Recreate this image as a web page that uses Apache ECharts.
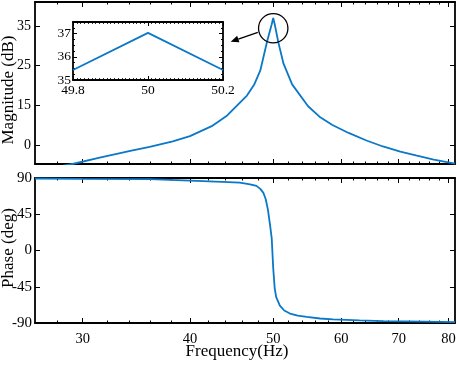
<!DOCTYPE html>
<html lang="en">
<head>
<meta charset="UTF-8">
<title>Bode</title>
<style>
    body { margin: 0; background: #fff; }
    .div { width: 457px; height: 365px; }
</style>
</head>
<body>
<div class="div"></div>
<script src="https://cdn.jsdelivr.net/npm/echarts@6/dist/echarts.min.js"></script>
<script>
    // magnitude
    var magFreq = [26.4, 29.2, 31.4, 34.3, 35.9, 38.2, 40, 42.4, 44.2, 46.6, 47.5, 48.3, 49.2, 49.8, 50, 50.2, 50.7, 51.4, 52.6, 54.9, 56.6, 58.6, 61.2, 64.2, 67.1, 70.3, 73.5, 76.9, 81.4]
    var magDb = [-1.4, 0.3, 1.9, 3.7, 4.6, 6.0, 7.3, 9.8, 12.5, 17.5, 20.2, 23.8, 31.2, 35.4, 37.0, 35.4, 30.8, 25.5, 20.3, 14.8, 12.2, 10.1, 8.1, 6.2, 4.7, 3.4, 2.4, 1.4, 0.4]
    // phase
    var phaseFreq = [26.4, 30, 35.9, 40, 43.6, 45.7, 47.0, 47.8, 48.3, 48.7, 49.0, 49.3, 49.6, 49.8, 50.0, 50.2, 50.4, 50.9, 51.5, 52.3, 53.4, 54.7, 56.7, 58.7, 63, 67.2, 75, 81.4]
    var phaseDeg = [89.4, 89.0, 88.5, 86.8, 85.2, 84.2, 82.2, 80.2, 76.5, 71.5, 64, 50.5, 30, 15, -22, -47, -58, -68.5, -74.5, -78.3, -80.8, -82.5, -84.4, -85.4, -86.8, -87.6, -88.3, -88.8]
    // zoomed inset
    var insetFreq = [49.8, 50, 50.2]
    var insetDb = [35.43, 37.03, 35.43]

    var freqTicks = [30, 40, 50, 60, 70, 80]
    var freqMinor = [28, 32, 34, 36, 38, 42, 44, 46, 48, 52, 54, 56, 58, 62, 64, 66, 68, 72, 74, 76, 78]
    var magTickValues = [5, 15, 25, 35]
    var magTickLabels = ['0', '15', '25', '35']   // as printed on the original
    var phaseTicks = [-90, -45, 0, 45, 90]
    var insetXTicks = [49.8, 50, 50.2]
    var insetYTicks = [35, 36, 37]
    var zoomCenter = [50, 34.4]

    var font = 'Liberation Serif'
    var blue = '#0a78c8'
    var lg = function (v) { return Math.log10(v) }
    var fMin = lg(26.4), fMax = lg(81.4)

    function range(a, b, step) {
        var out = []
        for (var v = a; v <= b + 1e-9; v += step) out.push(Math.round(v * 1000) / 1000)
        return out
    }

    function mkAxis(grid, pos, min, max, ticks, len, line, label) {
        var ax = {
            type: 'value', gridIndex: grid, position: pos, min: min, max: max,
            axisLine: { show: line, onZero: false, lineStyle: { color: '#000', width: 1.8 } },
            axisTick: { show: true, inside: true, length: len, customValues: ticks, lineStyle: { color: '#000', width: 1 } },
            splitLine: { show: false },
            axisLabel: { show: false }
        }
        if (label) {
            ax.axisLabel = {
                show: true, customValues: label.values, formatter: label.fmt,
                color: '#000', fontFamily: font, fontSize: label.size || 13, margin: label.margin
            }
        }
        return ax
    }
    var xAxes = [], yAxes = []
    function addX() { xAxes.push(mkAxis.apply(null, arguments)); return xAxes.length - 1 }
    function addY() { yAxes.push(mkAxis.apply(null, arguments)); return yAxes.length - 1 }

    var majLog = freqTicks.map(lg), minLog = freqMinor.map(lg)
    var freqFmt = function (v) { return String(Math.round(Math.pow(10, v))) }

    // top panel
    var magX = addX(0, 'bottom', fMin, fMax, majLog, 5, true, null)
    addX(0, 'bottom', fMin, fMax, minLog, 2.5, false, null)
    addX(0, 'top', fMin, fMax, majLog, 5, true, null)
    addX(0, 'top', fMin, fMax, minLog, 2.5, false, null)
    var magY = addY(0, 'left', 0.3, 41, magTickValues, 5, true, {
        values: magTickValues, margin: 4, size: 14,
        fmt: function (v) {
            var best = 0
            magTickValues.forEach(function (t, i) { if (Math.abs(t - v) < Math.abs(magTickValues[best] - v)) best = i })
            return magTickLabels[best]
        }
    })
    addY(0, 'right', 0.3, 41, magTickValues, 5, true, null)

    // bottom panel
    var phX = addX(1, 'bottom', fMin, fMax, majLog, 5, true, { values: majLog, fmt: freqFmt, margin: 9, size: 14.5 })
    addX(1, 'bottom', fMin, fMax, minLog, 2.5, false, null)
    addX(1, 'top', fMin, fMax, majLog, 5, true, null)
    addX(1, 'top', fMin, fMax, minLog, 2.5, false, null)
    var phY = addY(1, 'left', -90, 90, phaseTicks, 5, true, { values: phaseTicks, margin: 3, size: 15, fmt: function (v) { return String(v) } })
    addY(1, 'right', -90, 90, phaseTicks, 5, true, null)

    // inset
    var inX = addX(2, 'bottom', 49.8, 50.2, insetXTicks, 4, true, {
        values: insetXTicks, margin: 3, size: 13.5, fmt: function (v) { return String(Math.round(v * 10) / 10) }
    })
    addX(2, 'top', 49.8, 50.2, insetXTicks, 4, true, null)
    addX(2, 'top', 49.8, 50.2, range(49.8, 50.2, 0.01), 1.8, false, null)
    addX(2, 'bottom', 49.8, 50.2, range(49.8, 50.2, 0.01), 1.8, false, null)
    var inY = addY(2, 'left', 35, 37.5, insetYTicks, 4, true, { values: insetYTicks, margin: 2, size: 13.5, fmt: function (v) { return String(v) } })
    addY(2, 'right', 35, 37.5, insetYTicks, 4, true, null)
    addY(2, 'right', 35, 37.5, range(35, 37.5, 0.25), 2, false, null)
    addY(2, 'left', 35, 37.5, range(35, 37.5, 0.25), 2, false, null)

    var lineStyle = { color: blue, width: 1.8 }
    var myecharts = echarts.init(document.getElementsByClassName('div')[0])
    var option = {
        animation: false,
        backgroundColor: '#fff',
        grid: [
            { left: 35, top: 2, width: 420, height: 162, outerBoundsMode: 'none' },
            { left: 35, top: 178, width: 420, height: 145, outerBoundsMode: 'none' },
            { left: 73, top: 22, width: 150, height: 58, outerBoundsMode: 'none', show: true, backgroundColor: '#fff', borderWidth: 0 }
        ],
        xAxis: xAxes,
        yAxis: yAxes,
        series: [
            {
                type: 'line', xAxisIndex: magX, yAxisIndex: magY, showSymbol: false, clip: true,
                lineStyle: lineStyle, itemStyle: { color: blue },
                data: magFreq.map(function (f, i) { return [lg(f), magDb[i]] })
            },
            {
                type: 'line', xAxisIndex: phX, yAxisIndex: phY, showSymbol: false, clip: true,
                lineStyle: lineStyle, itemStyle: { color: blue },
                data: phaseFreq.map(function (f, i) { return [lg(f), phaseDeg[i]] })
            },
            {
                type: 'line', xAxisIndex: inX, yAxisIndex: inY, showSymbol: false, clip: true,
                lineStyle: lineStyle, itemStyle: { color: blue },
                data: insetFreq.map(function (f, i) { return [f, insetDb[i]] })
            }
        ]
    }
    myecharts.setOption(option)

    // annotations: circle on peak + arrow to the inset, axis titles
    var c = myecharts.convertToPixel({ xAxisIndex: magX, yAxisIndex: magY }, [lg(zoomCenter[0]), zoomCenter[1]])
    var s = [c[0] - 15.4, c[1] + 4], e = [c[0] - 42.5, c[1] + 13.4]
    var dx = e[0] - s[0], dy = e[1] - s[1], L = Math.sqrt(dx * dx + dy * dy)
    var ux = dx / L, uy = dy / L
    var hb = [e[0] - ux * 8, e[1] - uy * 8]
    var head = [e, [hb[0] - uy * 3.5, hb[1] + ux * 3.5], [hb[0] + uy * 3.5, hb[1] - ux * 3.5]]
    var titleStyle = { fill: '#000', font: '17px "Liberation Serif"', textAlign: 'center', textVerticalAlign: 'middle' }
    myecharts.setOption({
        graphic: [
            { type: 'circle', shape: { cx: c[0], cy: c[1], r: 14.7 }, style: { fill: null, stroke: '#000', lineWidth: 1.3 }, z: 100 },
            { type: 'line', shape: { x1: s[0], y1: s[1], x2: hb[0], y2: hb[1] }, style: { stroke: '#000', lineWidth: 1.3 }, z: 100 },
            { type: 'polygon', shape: { points: head }, style: { fill: '#000' }, z: 100 },
            { type: 'text', x: 9, y: 90, rotation: Math.PI / 2, style: Object.assign({ text: 'Magnitude (dB)' }, titleStyle) },
            { type: 'text', x: 9, y: 248, rotation: Math.PI / 2, style: Object.assign({ text: 'Phase (deg)' }, titleStyle) },
            { type: 'text', x: 237, y: 352, style: Object.assign({ text: 'Frequency(Hz)' }, titleStyle) }
        ]
    })
    window.onresize = myecharts.resize
</script>
</body>
</html>
